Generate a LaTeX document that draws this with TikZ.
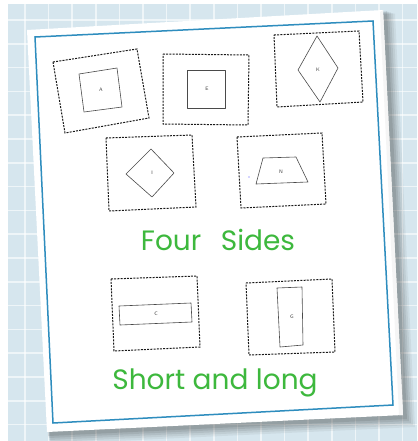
\documentclass[tikz,border=0pt]{standalone}
\usepackage{fontspec}
\newfontfamily\handfont{Poppins}
\usetikzlibrary{calc}
\definecolor{bgblue}{HTML}{D6E6EE}
\definecolor{frameblue}{HTML}{2E8DBE}
\definecolor{inkgreen}{HTML}{3DB83D}
\definecolor{inkgray}{HTML}{4A4A4A}
\tikzset{
  outerbox/.style={draw=black!90, line width=1pt, dash pattern=on 2pt off 1.2pt},
  innershape/.style={draw=inkgray, line width=0.6pt, line join=round},
  lbl/.style={font=\sffamily\fontsize{5}{5}\selectfont, text=black!75, inner sep=0pt},
  hand/.style={font=\handfont\fontsize{28}{28}\selectfont, text=inkgreen, inner sep=0pt},
}
\begin{document}
\begin{tikzpicture}[x=1pt,y=-1pt]
\useasboundingbox (0,0) rectangle (417,441);
% background
\fill[white] (0,0) rectangle (417,441);
\fill[bgblue] (8,4) rectangle (417,441);
\foreach \i in {0,...,17} {
  \draw[white, line width=1.5pt, opacity=0.6] ({25+23.6*\i},4) -- ({25+23.6*\i},441);
}
\foreach \j in {0,...,17} {
  \draw[white, line width=1.5pt, opacity=0.6] (8,{20+23.8*\j}) -- (417,{20+23.8*\j});
}
% shadow of paper
\foreach \o/\a in {12/0.05,10/0.06,8/0.07,6/0.08,4/0.09} {
  \fill[black, opacity=\a] ($(27,30)+(\o*0.6,\o)$) -- ($(383,10)+(\o,\o*0.3)$) -- ($(403,415)+(\o,\o)$) -- ($(47,432)+(\o*0.3,\o)$) -- cycle;
}
% paper
\fill[white] (27,30) -- (383,10) -- (403,415) -- (47,432) -- cycle;
\fill[black!4] (380,12) -- (383,10) -- (403,415) -- (399,415) -- cycle;
% blue frame
\draw[frameblue, line width=1.5pt] (35,37) -- (373,21) -- (393,405) -- (53,423) -- cycle;

% A
\draw[outerbox] (53,62) -- (137,49) -- (149,118) -- (65,133) -- cycle;
\draw[innershape] (79,74) -- (117,68) -- (122,107) -- (84,112) -- cycle;
\node[lbl] (A) at (101,90) {A};
% B
\draw[outerbox] (163,54) -- (249,55) -- (248,125) -- (163,124) -- cycle;
\draw[innershape] (187,70) -- (225,70) -- (225,108) -- (187,108) -- cycle;
\node[lbl] (B) at (207,89) {E};
% K
\draw[outerbox] (274,35) -- (359,31) -- (363,102) -- (277,107) -- cycle;
\draw[innershape] (317,36) -- (338,68) -- (320,102) -- (298,70) -- cycle;
\node[lbl] (K) at (318,70) {K};
% I
\draw[outerbox] (106,138) -- (192,135) -- (196,207) -- (109,211) -- cycle;
\draw[innershape] (151,149) -- (174,173) -- (152,197) -- (126,174) -- cycle;
\node[lbl] (I) at (152,173) {I};
% N
\draw[outerbox] (237,137) -- (322,133) -- (326,204) -- (241,208) -- cycle;
\draw[innershape] (263,158) -- (296,157) -- (308,182) -- (256,184) -- cycle;
\node[lbl] (N) at (281,172) {N};
\fill[blue!70] (249,177) circle (0.6);
% Four Sides
\node[hand] (four) at (218,240) {Four\hspace{0.7em}Sides};
% C
\draw[outerbox] (111,279) -- (197,276) -- (200,347) -- (114,351) -- cycle;
\draw[innershape] (119,306) -- (191,303) -- (192,322) -- (120,325) -- cycle;
\node[lbl] (C) at (156,314) {C};
% G
\draw[outerbox] (246,283) -- (332,279) -- (335,352) -- (249,355) -- cycle;
\draw[innershape] (277,288) -- (302,287) -- (303,345) -- (280,347) -- cycle;
\node[lbl] (G) at (292,317) {G};
% Short and long
\node[hand] (short) at (215,383) {Short and long};
\end{tikzpicture}
\end{document}
